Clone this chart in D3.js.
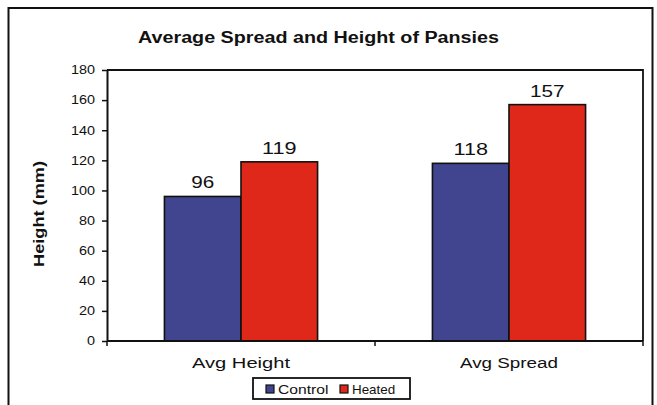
<!DOCTYPE html>
<html>
<head>
<meta charset="utf-8">
<script src="https://cdn.jsdelivr.net/npm/d3@7/dist/d3.min.js"></script>
<style>
  html, body { margin: 0; padding: 0; background: #fff; }
  svg { display: block; font-family: Arial, "Liberation Sans", sans-serif; }
</style>
</head>
<body>
<svg id="chart" width="657" height="405"></svg>
<script>
const categories = ["Avg Height", "Avg Spread"];
const seriesNames = ["Control", "Heated"];
const controlValues = [96, 118];
const heatedValues = [119, 157];
const yTicks = [0, 20, 40, 60, 80, 100, 120, 140, 160, 180];
const colors = ["#41448E", "#E0281A"];
const title = "Average Spread and Height of Pansies";
const yTitle = "Height (mm)";

(function () {
const values = [controlValues, heatedValues];
const svg = d3.select("#chart");

// outer frame
svg.append("rect").attr("x", 8.5).attr("y", 8).attr("width", 644).attr("height", 410)
  .attr("fill", "#fff").attr("stroke", "#111").attr("stroke-width", 2);

const pl = 107, pr = 643, pt = 70, pb = 341;

const x0 = d3.scaleBand().domain(categories).range([pl, pr]).paddingInner(0).paddingOuter(0);
const x1 = d3.scaleBand().domain(seriesNames).range([0, x0.bandwidth()]).paddingInner(0).paddingOuter(0.75);
const y = d3.scaleLinear().domain([0, 180]).range([pb, pt]);

// plot border top & right
svg.append("path").attr("d", `M${pl},${pt}H${pr}V${pb}`)
  .attr("fill", "none").attr("stroke", "#111").attr("stroke-width", 1.8);

// bars
const groups = svg.append("g").selectAll("g").data(categories).join("g")
  .attr("transform", d => `translate(${x0(d)},0)`);
groups.each(function(cat, ci) {
  const g = d3.select(this);
  seriesNames.forEach((s, si) => {
    const v = values[si][ci];
    g.append("rect")
      .attr("x", x1(s)).attr("y", y(v))
      .attr("width", x1.bandwidth()).attr("height", y(0) - y(v))
      .attr("fill", colors[si]).attr("stroke", "#111").attr("stroke-width", 1.6);
    g.append("text")
      .attr("x", x1(s) + x1.bandwidth() / 2).attr("y", y(v) - 8)
      .attr("text-anchor", "middle").attr("font-size", 16.5)
      .attr("textLength", String(v).length * 11.5).attr("lengthAdjust", "spacingAndGlyphs")
      .attr("fill", "#111").text(v);
  });
});

// y axis
const yAxis = svg.append("g").attr("transform", `translate(${pl},0)`)
  .call(d3.axisLeft(y).tickValues(yTicks).tickSize(5).tickPadding(7).tickSizeOuter(0));
yAxis.select(".domain").attr("stroke", "#111").attr("stroke-width", 2);
yAxis.selectAll(".tick line").attr("stroke", "#111").attr("stroke-width", 1.5);
yAxis.selectAll(".tick text").attr("font-size", 12).attr("fill", "#111")
  .attr("font-family", "Arial, 'Liberation Sans', sans-serif")
  .attr("x", -10).attr("transform", "scale(1.2,1)");

// x axis
const xAxis = svg.append("g").attr("transform", `translate(0,${pb})`);
xAxis.append("line").attr("x1", pl).attr("x2", pr).attr("y1", 0).attr("y2", 0)
  .attr("stroke", "#111").attr("stroke-width", 2);
const boundaries = categories.map(c => x0(c)).concat([x0(categories[categories.length - 1]) + x0.bandwidth()]);
xAxis.selectAll("line.tk").data(boundaries).join("line").attr("class", "tk")
  .attr("x1", d => d).attr("x2", d => d).attr("y1", 0).attr("y2", 5)
  .attr("stroke", "#111").attr("stroke-width", 1.5);
xAxis.selectAll("text").data(categories).join("text")
  .attr("x", d => x0(d) + x0.bandwidth() / 2).attr("y", 27)
  .attr("text-anchor", "middle").attr("font-size", 15.5).attr("fill", "#111")
  .attr("textLength", 98).attr("lengthAdjust", "spacingAndGlyphs")
  .text(d => d);

// title
svg.append("text").attr("x", 138).attr("y", 43).attr("font-size", 16).attr("font-weight", "bold")
  .attr("fill", "#111").attr("textLength", 361).attr("lengthAdjust", "spacingAndGlyphs").text(title);

// y title
svg.append("text").attr("transform", "translate(44,214) rotate(-90)")
  .attr("text-anchor", "middle").attr("font-size", 15).attr("font-weight", "bold")
  .attr("fill", "#111").attr("textLength", 106).attr("lengthAdjust", "spacingAndGlyphs").text(yTitle);

// legend
const legend = svg.append("g");
legend.append("rect").attr("x", 253).attr("y", 378).attr("width", 157).attr("height", 21)
  .attr("fill", "#fff").attr("stroke", "#111").attr("stroke-width", 1.8);
const legX = [266, 340];
seriesNames.forEach((s, i) => {
  legend.append("rect").attr("x", legX[i]).attr("y", 385).attr("width", 8).attr("height", 8)
    .attr("fill", colors[i]).attr("stroke", "#111").attr("stroke-width", 1.2);
  legend.append("text").attr("x", legX[i] + 12).attr("y", 394).attr("font-size", 13)
    .attr("fill", "#111").attr("textLength", s.length * 7.2).attr("lengthAdjust", "spacingAndGlyphs").text(s);
});
})();
</script>
</body>
</html>
